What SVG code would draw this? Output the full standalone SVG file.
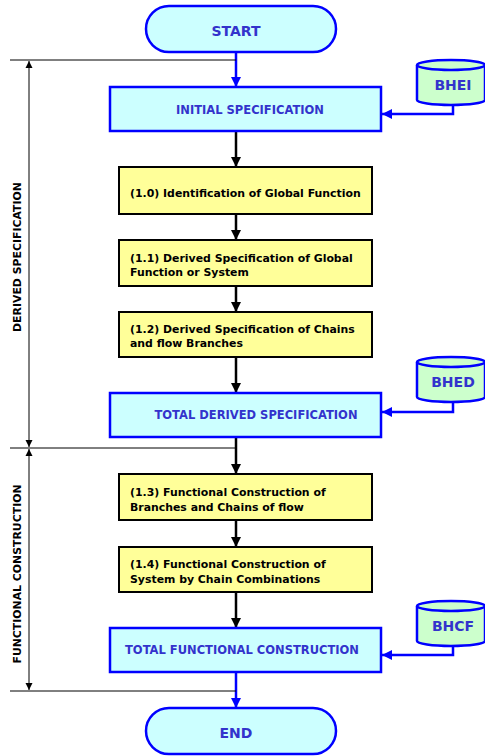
<svg xmlns="http://www.w3.org/2000/svg" width="485" height="756" viewBox="0 0 485 756">
  <defs>
    <marker id="arrBlue" viewBox="0 0 10 10" refX="10" refY="5" markerWidth="4" markerHeight="4" orient="auto" markerUnits="strokeWidth">
      <path d="M0,0 L10,5 L0,10 z" fill="#0000ff"/>
    </marker>
    <marker id="arrBlack" viewBox="0 0 10 10" refX="10" refY="5" markerWidth="4" markerHeight="4" orient="auto" markerUnits="strokeWidth">
      <path d="M0,0 L10,5 L0,10 z" fill="#000"/>
    </marker>
    <marker id="arrThin" viewBox="0 0 10 10" refX="10" refY="5" markerWidth="7" markerHeight="14" orient="auto" markerUnits="userSpaceOnUse">
      <path d="M0,0 L10,5 L0,10 z" fill="#000"/>
    </marker>
    <style>
      .term { fill: #ccffff; stroke: #0000ff; stroke-width: 2.5; }
      .spec { fill: #ccffff; stroke: #0000ff; stroke-width: 2.5; }
      .step { fill: #ffff99; stroke: #000; stroke-width: 2; }
      .db { fill: #ccffcc; stroke: #0000ff; stroke-width: 2.5; }
      .tb { font-family: "DejaVu Sans", Verdana, sans-serif; font-weight: bold; fill: #3333cc; }
      .tk { font-family: "DejaVu Sans", Verdana, sans-serif; font-weight: bold; fill: #000; font-size: 10.9px; }
      .flowB { stroke: #0000ff; stroke-width: 2.5; fill: none; marker-end: url(#arrBlue); }
      .flowK { stroke: #000; stroke-width: 2.5; fill: none; marker-end: url(#arrBlack); }
      .dim { stroke: #000; stroke-width: 1; fill: none; }
    </style>
  </defs>

  <!-- connectors -->
  <g id="connectors">
    <path class="flowB" d="M236,52 V87"/>
    <path class="flowK" d="M236,131 V167"/>
    <path class="flowK" d="M236,214 V240"/>
    <path class="flowK" d="M236,286 V312"/>
    <path class="flowK" d="M236,357 V393"/>
    <path class="flowK" d="M236,437 V474"/>
    <path class="flowK" d="M236,520 V547"/>
    <path class="flowK" d="M236,592 V628"/>
    <path class="flowB" d="M236,672 V708"/>
    <path class="flowB" d="M453,105 V114 H382"/>
    <path class="flowB" d="M453,402 V412 H382"/>
    <path class="flowB" d="M453,646 V655 H382"/>
  </g>

  <!-- phase brackets -->
  <g id="phases">
    <path class="dim" d="M10,60 H236"/>
    <path class="dim" d="M10,448 H236"/>
    <path class="dim" d="M10,691 H236"/>
    <path class="dim" d="M29,254 V61" marker-end="url(#arrThin)"/>
    <path class="dim" d="M29,254 V447" marker-end="url(#arrThin)"/>
    <path class="dim" d="M29,570 V449" marker-end="url(#arrThin)"/>
    <path class="dim" d="M29,570 V690" marker-end="url(#arrThin)"/>
    <text class="tk" transform="translate(21,257) rotate(-90)" text-anchor="middle">DERIVED SPECIFICATION</text>
    <text class="tk" transform="translate(21,574) rotate(-90)" text-anchor="middle">FUNCTIONAL CONSTRUCTION</text>
  </g>

  <g id="start">
    <rect class="term" x="146" y="6" width="190" height="46" rx="23"/>
    <text class="tb" x="236" y="36" font-size="14" text-anchor="middle">START</text>
  </g>

  <g id="initial-spec">
    <rect class="spec" x="110" y="87" width="271" height="44"/>
    <text class="tb" x="250" y="114" font-size="11.5" text-anchor="middle">INITIAL SPECIFICATION</text>
  </g>

  <g id="bhei">
    <path class="db" d="M417,65 V100 A34,5 0 0 0 485,100 V65"/>
    <ellipse class="db" cx="451" cy="65" rx="34" ry="5"/>
    <text class="tb" x="453" y="90" font-size="14" text-anchor="middle">BHEI</text>
  </g>

  <g id="step-1-0">
    <rect class="step" x="119" y="167" width="253" height="47"/>
    <text class="tk" x="130" y="197">(1.0) Identification of Global Function</text>
  </g>

  <g id="step-1-1">
    <rect class="step" x="119" y="240" width="253" height="46"/>
    <text class="tk" x="130" y="262">(1.1) Derived Specification of Global</text>
    <text class="tk" x="130" y="276">Function or System</text>
  </g>

  <g id="step-1-2">
    <rect class="step" x="119" y="312" width="253" height="45"/>
    <text class="tk" x="130" y="333">(1.2) Derived Specification of Chains</text>
    <text class="tk" x="130" y="347">and flow Branches</text>
  </g>

  <g id="total-derived">
    <rect class="spec" x="110" y="393" width="271" height="44"/>
    <text class="tb" x="256" y="419" font-size="11.5" text-anchor="middle">TOTAL DERIVED SPECIFICATION</text>
  </g>

  <g id="bhed">
    <path class="db" d="M417,362 V397 A34,5 0 0 0 485,397 V362"/>
    <ellipse class="db" cx="451" cy="362" rx="34" ry="5"/>
    <text class="tb" x="453" y="387" font-size="14" text-anchor="middle">BHED</text>
  </g>

  <g id="step-1-3">
    <rect class="step" x="119" y="474" width="253" height="46"/>
    <text class="tk" x="130" y="496">(1.3) Functional Construction of</text>
    <text class="tk" x="130" y="511">Branches and Chains of flow</text>
  </g>

  <g id="step-1-4">
    <rect class="step" x="119" y="547" width="253" height="45"/>
    <text class="tk" x="130" y="568">(1.4) Functional Construction of</text>
    <text class="tk" x="130" y="583">System by Chain Combinations</text>
  </g>

  <g id="total-functional">
    <rect class="spec" x="110" y="628" width="271" height="44"/>
    <text class="tb" x="242" y="654" font-size="11.5" text-anchor="middle">TOTAL FUNCTIONAL CONSTRUCTION</text>
  </g>

  <g id="bhcf">
    <path class="db" d="M417,606 V641 A34,5 0 0 0 485,641 V606"/>
    <ellipse class="db" cx="451" cy="606" rx="34" ry="5"/>
    <text class="tb" x="453" y="631" font-size="14" text-anchor="middle">BHCF</text>
  </g>

  <g id="end">
    <rect class="term" x="146" y="708" width="190" height="46" rx="23"/>
    <text class="tb" x="236" y="738" font-size="14" text-anchor="middle">END</text>
  </g>
</svg>
